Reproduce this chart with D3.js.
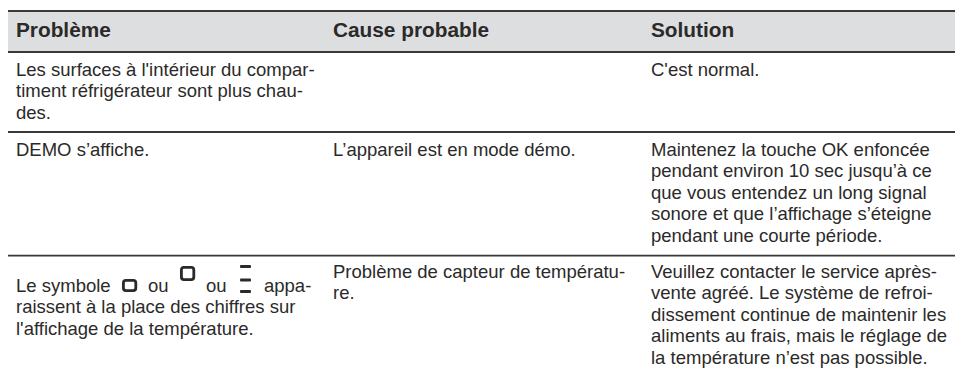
<!DOCTYPE html>
<html>
<head>
<meta charset="utf-8">
<script src="https://cdn.jsdelivr.net/npm/d3@7"></script>
<style>
html, body { margin: 0; padding: 0; background: #fff; }
svg { display: block; }
text { font-family: "Liberation Sans", Arial, sans-serif; fill: #2b2a29; }
.head { font-weight: bold; font-size: 20.8px; }
.cell { font-size: 18.5px; }
</style>
</head>
<body>
<div id="app"></div>
<script>
const columns = ['Problème', 'Cause probable', 'Solution'];

const problems = [
	["Les surfaces à l'intérieur du compar-", 'timent réfrigérateur sont plus chau-', 'des.'],
	['DEMO s’affiche.'],
	['', 'raissent à la place des chiffres sur', "l'affichage de la température."]
];
const causes = [
	[],
	['L’appareil est en mode démo.'],
	['Problème de capteur de températu-', 're.']
];
const solutions = [
	["C'est normal."],
	['Maintenez la touche OK enfoncée', 'pendant environ 10 sec jusqu’à ce', 'que vous entendez un long signal', 'sonore et que l’affichage s’éteigne', 'pendant une courte période.'],
	['Veuillez contacter le service après-', 'vente agréé. Le système de refroi-', 'dissement continue de maintenir les', 'aliments au frais, mais le réglage de', 'la température n’est pas possible.']
];

// mixed line with the three display symbols
const symbolWords = ['Le symbole', 'ou', 'ou', 'appa-'];
const symbolKinds = ['box', 'boxRaised', 'bars'];

const width = 955, height = 374;

const svg = d3.select('#app').append('svg')
	.attr('width', width)
	.attr('height', height);

const x = d3.scaleOrdinal().domain(columns).range([16, 333, 651]);

// y of the horizontal rules: top of header, bottom of header, rows
const rules = [11, 52, 132, 255.7];

svg.append('rect')
	.attr('x', 8)
	.attr('y', rules[0])
	.attr('width', width - 8)
	.attr('height', rules[1] - rules[0])
	.attr('fill', '#dcdee0');

svg.selectAll('line.rule')
	.data(rules)
	.enter()
	.append('line')
	.classed('rule', true)
	.attr('x1', 8)
	.attr('x2', width)
	.attr('y1', d => d)
	.attr('y2', d => d)
	.attr('stroke', '#3a3938')
	.attr('stroke-width', 1.8);

svg.selectAll('text.head')
	.data(columns)
	.enter()
	.append('text')
	.classed('head', true)
	.attr('x', d => x(d))
	.attr('y', 36.5)
	.text(d => d);

// first baseline of each row, per column
const baselines = {
	[columns[0]]: [76, 156, 292],
	[columns[1]]: [76, 156, 278],
	[columns[2]]: [76, 156, 278]
};
const lineHeight = 21.4;

const drawColumn = (name, rows) => {
	rows.forEach((lines, r) => {
		lines.forEach((line, i) => {
			if (!line) return;
			svg.append('text')
				.classed('cell', true)
				.attr('x', x(name))
				.attr('y', baselines[name][r] + i * lineHeight)
				.text(line);
		});
	});
};

drawColumn(columns[0], problems);
drawColumn(columns[1], causes);
drawColumn(columns[2], solutions);

// first line of the last row, words and symbols placed by hand
const symbolBase = 292;
const wordX = d3.scaleOrdinal().domain(d3.range(symbolWords.length)).range([16, 148, 206, 264]);
const symbolX = d3.scaleOrdinal().domain(symbolKinds).range([122, 180, 240]);

symbolWords.forEach((word, i) => {
	svg.append('text')
		.classed('cell', true)
		.attr('x', wordX(i))
		.attr('y', symbolBase)
		.text(word);
});

const drawBox = (px, top, h) => {
	svg.append('rect')
		.attr('x', px + 1.4)
		.attr('y', top + 1.4)
		.attr('width', 12.4)
		.attr('height', h - 2.8)
		.attr('rx', 2.5)
		.attr('fill', 'none')
		.attr('stroke', '#2b2a29')
		.attr('stroke-width', 2.8);
};

drawBox(symbolX('box'), 279, 13);
drawBox(symbolX('boxRaised'), 266, 15);

svg.selectAll('rect.bar')
	.data([265, 278.5, 290])
	.enter()
	.append('rect')
	.classed('bar', true)
	.attr('x', symbolX('bars'))
	.attr('y', d => d)
	.attr('width', 11)
	.attr('height', 3)
	.attr('rx', 1)
	.attr('fill', '#2b2a29');
</script>
</body>
</html>
